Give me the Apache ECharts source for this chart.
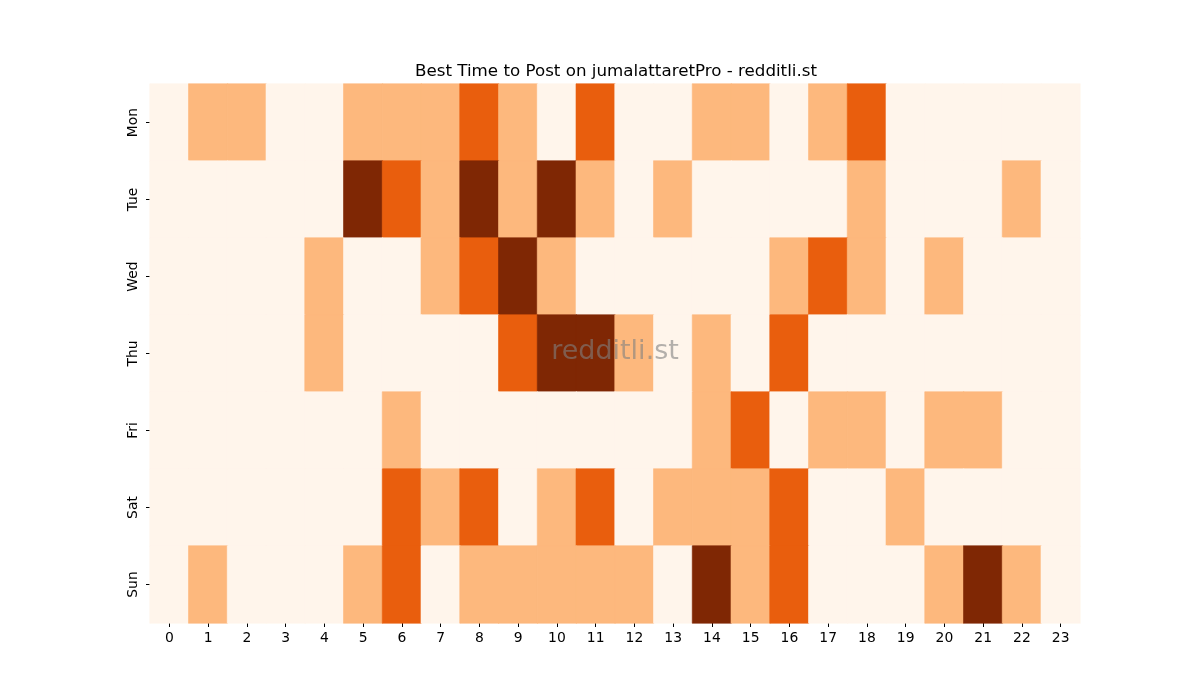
<!DOCTYPE html>
<html>
<head>
<meta charset="utf-8">
<script src="https://cdn.jsdelivr.net/npm/echarts@6/dist/echarts.min.js"></script>
<style>html,body{margin:0;padding:0;background:#fff}#c{width:1200px;height:700px}</style>
</head>
<body>
<div id="c"></div>
<script>
const hours = ['0','1','2','3','4','5','6','7','8','9','10','11','12','13','14','15','16','17','18','19','20','21','22','23'];
const days = ['Mon','Tue','Wed','Thu','Fri','Sat','Sun'];
const mon = [0,1,1,0,0,1,1,1,2,1,0,2,0,0,1,1,0,1,2,0,0,0,0,0];
const tue = [0,0,0,0,0,3,2,1,3,1,3,1,0,1,0,0,0,0,1,0,0,0,1,0];
const wed = [0,0,0,0,1,0,0,1,2,3,1,0,0,0,0,0,1,2,1,0,1,0,0,0];
const thu = [0,0,0,0,1,0,0,0,0,2,3,3,1,0,1,0,2,0,0,0,0,0,0,0];
const fri = [0,0,0,0,0,0,1,0,0,0,0,0,0,0,1,2,0,1,1,0,1,1,0,0];
const sat = [0,0,0,0,0,0,2,1,2,0,1,2,0,1,1,1,2,0,0,1,0,0,0,0];
const sun = [0,1,0,0,0,1,2,0,1,1,1,1,1,0,3,1,2,0,0,0,1,3,1,0];
const rows = [mon, tue, wed, thu, fri, sat, sun];
const levelColors = ['#fff5eb', '#fdb87d', '#e95e0d', '#7f2704'];

const data = [];
rows.forEach((r, yi) => r.forEach((v, xi) => data.push({
  value: [xi, yi, v],
  itemStyle: {color: levelColors[v], borderColor: levelColors[v], borderWidth: 0.6}
})));

const chart = echarts.init(document.getElementById('c'));
const font = 'DejaVu Sans';
chart.setOption({
  animation: false,
  title: {
    text: 'Best Time to Post on jumalattaretPro - redditli.st',
    left: 410, top: 58,
    textStyle: {fontFamily: font, fontSize: 16.7, fontWeight: 'normal', color: '#000'}
  },
  grid: {left: 150, right: 120, top: 84, bottom: 77},
  xAxis: {
    type: 'category', data: hours,
    axisLine: {show: false},
    axisTick: {show: true, alignWithLabel: true, length: 4, lineStyle: {color: '#000'}},
    axisLabel: {fontFamily: font, fontSize: 13.9, color: '#000', margin: 8},
    splitLine: {show: false}
  },
  yAxis: {
    type: 'category', data: days, inverse: true,
    axisLine: {show: false},
    axisTick: {show: true, alignWithLabel: true, length: 4, lineStyle: {color: '#000'}},
    axisLabel: {fontFamily: font, fontSize: 13.9, color: '#000', rotate: 90, margin: 10},
    splitLine: {show: false}
  },
  series: [{
    type: 'heatmap', data: data,
    emphasis: {disabled: true}
  }],
  graphic: [{
    type: 'text', x: 615, y: 352, z: 100,
    style: {
      text: 'redditli.st', textAlign: 'center', textVerticalAlign: 'middle',
      font: '27px "DejaVu Sans"', fill: 'rgba(128,128,128,0.6)'
    }
  }]
});
</script>
</body>
</html>
